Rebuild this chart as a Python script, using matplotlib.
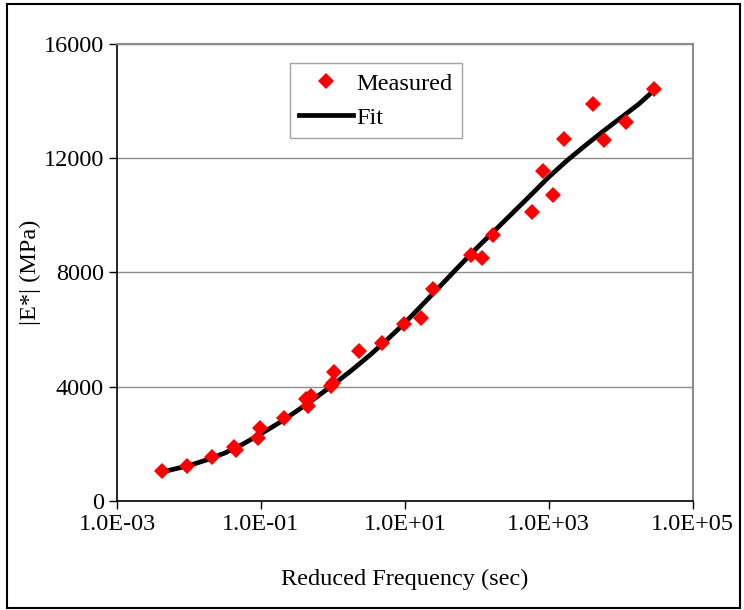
import matplotlib.pyplot as plt
from matplotlib.patches import Rectangle

plt.rcParams['font.family'] = ['Liberation Serif', 'DejaVu Serif']

# measured points (reduced frequency, |E*| in MPa)
freq_measured = [10**-2.38, 10**-2.03, 10**-1.675, 10**-1.38, 10**-1.35, 10**-1.04,
                 10**-1.01, 10**-0.68, 10**-0.37, 10**-0.34, 10**-0.30, 10**-0.03,
                 10**0.005, 10**0.018, 10**0.37, 10**0.69, 10**0.99, 10**1.22,
                 10**1.39, 10**1.92, 10**2.07, 10**2.23, 10**2.77, 10**2.92,
                 10**3.06, 10**3.21, 10**3.61, 10**3.77, 10**4.07, 10**4.47]
e_measured = [1034, 1238, 1524, 1878, 1782, 2190, 2558, 2898, 3578, 3306, 3687, 4014,
              4122, 4517, 5238, 5510, 6204, 6395, 7429, 8599, 8517, 9306, 10109, 11537,
              10721, 12653, 13878, 12626, 13252, 14422]

# fitted master curve, every quarter decade
log_freq_fit = [-2.38, -2.25, -2.0, -1.75, -1.5, -1.25, -1.0, -0.75, -0.5, -0.25,
                0.0, 0.25, 0.5, 0.75, 1.0, 1.25, 1.5, 1.75, 2.0, 2.25, 2.5, 2.75,
                3.0, 3.25, 3.5, 3.75, 4.0, 4.25, 4.47]
e_fit = [1010, 1090, 1240, 1440, 1680, 1990, 2350, 2730, 3150, 3590,
         4060, 4550, 5070, 5630, 6230, 6880, 7540, 8200, 8850, 9460, 10080, 10700,
         11330, 11900, 12420, 12920, 13400, 13880, 14380]
freq_fit = [10**v for v in log_freq_fit]

x_ticks = [1e-3, 1e-1, 1e1, 1e3, 1e5]
x_ticklabels = ['1.0E-03', '1.0E-01', '1.0E+01', '1.0E+03', '1.0E+05']
y_ticks = [0, 4000, 8000, 12000, 16000]

fig = plt.figure(figsize=(7.44, 6.10), dpi=100)
ax = fig.add_axes([117 / 744, 1 - 501 / 610, 575.6 / 744, 457.4 / 610])

ax.plot(freq_measured, e_measured, 'D', color='red', markersize=8.5,
        markeredgewidth=0, label='Measured', zorder=3)
ax.plot(freq_fit, e_fit, '-', color='black', linewidth=3.4, label='Fit', zorder=2,
        solid_joinstyle='round')

ax.set_xscale('log')
ax.set_xlim(1e-3, 1e5)
ax.set_ylim(0, 16000)
ax.set_xticks(x_ticks)
ax.set_xticklabels(x_ticklabels)
ax.minorticks_off()
ax.set_yticks(y_ticks)
ax.tick_params(labelsize=17.5, direction='out', length=6, width=1, colors='black')
ax.yaxis.grid(True, color='#8c8c8c', linewidth=1)
ax.set_axisbelow(True)

for side in ['top', 'right']:
    ax.spines[side].set_color('#8c8c8c')
    ax.spines[side].set_linewidth(1.5)
for side in ['left', 'bottom']:
    ax.spines[side].set_color('black')
    ax.spines[side].set_linewidth(1.2)

ax.set_xlabel('Reduced Frequency (sec)', fontsize=17.5, labelpad=24)
ax.set_ylabel('|E*| (MPa)', fontsize=17.5, labelpad=2)

leg = ax.legend(loc='upper left', bbox_to_anchor=(0.30, 0.958), fontsize=17.5,
                frameon=True, fancybox=False, borderaxespad=0, handlelength=2.2,
                handletextpad=0.15, borderpad=0.4, labelspacing=0.5)
leg.get_frame().set_edgecolor('#8c8c8c')
leg.get_frame().set_linewidth(1)

# outer border of the picture
fig.patches.append(Rectangle((7 / 744, 2 / 610), 733 / 744, 604 / 610,
                             transform=fig.transFigure, fill=False,
                             edgecolor='black', linewidth=1.5))

fig.savefig('out.png', dpi=100)
